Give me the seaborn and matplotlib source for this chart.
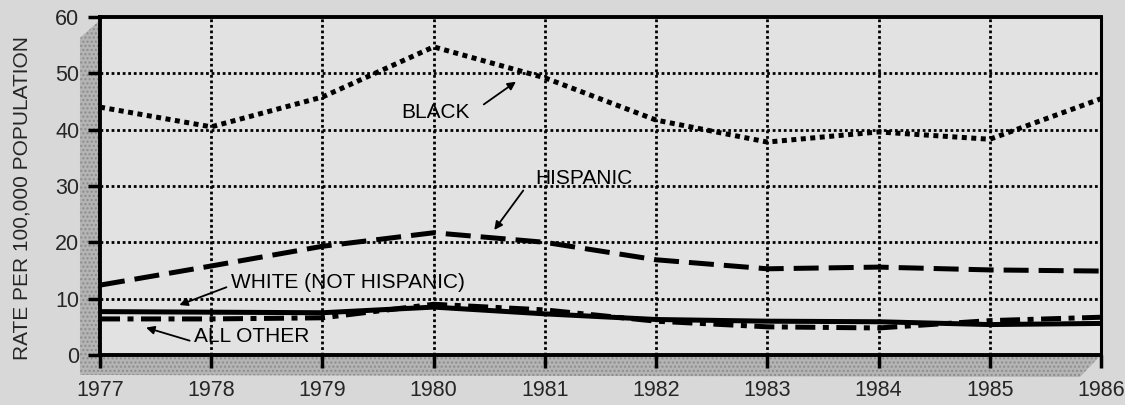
import pandas as pd
import numpy as np

import seaborn as sns
import matplotlib.pyplot as plt
from matplotlib.patches import Polygon

years = [1977, 1978, 1979, 1980, 1981, 1982, 1983, 1984, 1985, 1986]
black = [44.0, 40.5, 45.8, 54.7, 49.2, 41.7, 37.8, 39.6, 38.3, 45.5]
hispanic = [12.4, 15.8, 19.3, 21.7, 20.0, 16.9, 15.3, 15.6, 15.1, 14.9]
white = [7.7, 7.6, 7.5, 8.5, 7.3, 6.3, 6.0, 5.9, 5.4, 5.6]
all_other = [6.4, 6.4, 6.6, 9.0, 8.0, 6.0, 5.0, 4.8, 6.1, 6.7]

groups = ["BLACK", "HISPANIC", "WHITE (NOT HISPANIC)", "ALL OTHER"]
y_ticks = [0, 10, 20, 30, 40, 50, 60]
y_label = "RATE PER 100,000 POPULATION"

df = pd.DataFrame({
    "year": years * 4,
    "rate": black + hispanic + white + all_other,
    "group": np.repeat(groups, len(years)),
})

sns.set_style("white")
plt.rcParams["font.family"] = ["Liberation Sans", "DejaVu Sans"]

fig = plt.figure(figsize=(11.25, 4.05), dpi=100, facecolor="#d8d8d8")
ax = fig.add_axes([0.0889, 0.1235, 0.8898, 0.8345])
ax.set_facecolor("#e2e2e2")

# grid (dotted, drawn under the series)
for y in y_ticks[1:-1]:
    ax.axhline(y, color="black", lw=2, ls=(0, (1, 1)), zorder=1)
for x in years[1:-1]:
    ax.axvline(x, color="black", lw=2, ls=(0, (1, 1)), zorder=1)

sns.lineplot(
    data=df, x="year", y="rate", hue="group", style="group",
    palette=["black"] * 4,
    dashes={
        "BLACK": (1, 0.9),
        "HISPANIC": (5, 2),
        "WHITE (NOT HISPANIC)": "",
        "ALL OTHER": (4, 1.5, 1.2, 1.5),
    },
    linewidth=3.6, legend=False, ax=ax, zorder=3,
)

ax.set_xlim(years[0], years[-1])
ax.set_ylim(0, 60)
ax.set_xticks(years)
ax.set_yticks(y_ticks)
ax.tick_params(axis="both", direction="out", length=9, width=2.5,
               color="black", labelsize=15.5, bottom=True, left=True)
ax.tick_params(axis="x", pad=9)
ax.tick_params(axis="y", pad=6)
for s in ["top", "bottom", "left", "right"]:
    ax.spines[s].set_color("black")
    ax.spines[s].set_linewidth(2.8)
ax.spines["right"].set_linewidth(2.2)
ax.set_xlabel("")
ax.set_ylabel(y_label, fontsize=15)
ax.yaxis.set_label_coords(-0.068, 0.465)

# 3d-ish slabs at the left and bottom
slab_kw = dict(transform=ax.transAxes, clip_on=False, facecolor="#b4b4b4",
               edgecolor="#8c8c8c", hatch="....", lw=0, zorder=0)
ax.add_patch(Polygon([(-0.02, 0.938), (0, 0.991), (0, 0), (-0.02, -0.059)], **slab_kw))
ax.add_patch(Polygon([(-0.02, -0.059), (0, 0), (1, 0), (0.979, -0.065)], **slab_kw))

# labels with arrows
txt = dict(fontsize=15, color="black", ha="center", va="center", zorder=5)
arr = dict(arrowstyle="-|>", color="black", lw=1.3, mutation_scale=12)
ax.text(1980.02, 43.0, "BLACK", **txt)
ax.annotate("", xy=(1980.76, 48.8), xytext=(1980.43, 44.2), arrowprops=arr)
ax.text(1981.35, 31.4, "HISPANIC", **txt)
ax.annotate("", xy=(1980.53, 21.8), xytext=(1980.82, 29.6), arrowprops=arr)
ax.text(1979.23, 12.8, "WHITE (NOT HISPANIC)", **txt)
ax.annotate("", xy=(1977.69, 8.7), xytext=(1978.16, 12.2), arrowprops=arr)
ax.text(1978.36, 3.2, "ALL OTHER", **txt)
ax.annotate("", xy=(1977.39, 5.0), xytext=(1977.83, 2.4), arrowprops=arr)

plt.savefig("out.png", dpi=100, facecolor=fig.get_facecolor())
